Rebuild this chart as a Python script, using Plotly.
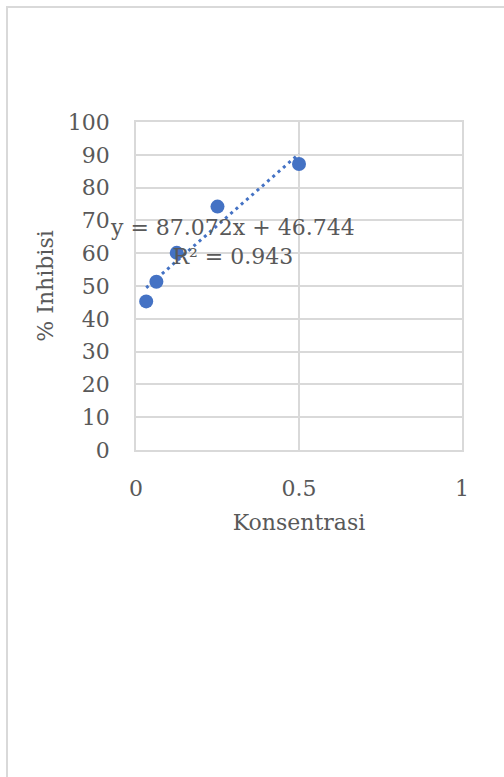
import plotly.graph_objects as go

# Concentration series and measured inhibition
konsentrasi = [0.03125, 0.0625, 0.125, 0.25, 0.5]
inhibisi = [45.3, 51.3, 60.1, 74.2, 87.2]

# Linear trendline coefficients and fit quality
slope = 87.072
intercept = 46.744
r_squared = 0.943

x_ticks = [0, 0.5, 1]
y_ticks = list(range(0, 101, 10))

FONT = "DejaVu Serif"
TXT = "#595959"
GRID = "#d9d9d9"
BLUE = "#4472C4"

trend_x = [min(konsentrasi), max(konsentrasi)]
trend_y = [slope * v + intercept for v in trend_x]

fig = go.Figure()
fig.add_trace(go.Scatter(
    x=trend_x, y=trend_y, mode="lines",
    line=dict(color=BLUE, width=3, dash="3px,4px"),
    hoverinfo="skip", showlegend=False,
))
fig.add_trace(go.Scatter(
    x=konsentrasi, y=inhibisi, mode="markers",
    marker=dict(color=BLUE, size=14),
    showlegend=False,
))

fig.add_annotation(
    x=0.295, y=63.3, xref="x", yref="y",
    text=f"y = {slope}x + {intercept}<br>R² = {r_squared}",
    showarrow=False, align="center",
    font=dict(family=FONT, size=22, color=TXT),
)

# Outer chart frame
fig.add_shape(
    type="rect", xref="paper", yref="paper",
    x0=-0.3957, x1=1.5, y0=-2.0, y1=1.3506,
    line=dict(color=GRID, width=2), fillcolor="rgba(0,0,0,0)",
)

fig.update_layout(
    width=504, height=777,
    margin=dict(l=136, r=42, t=122, b=327),
    paper_bgcolor="white", plot_bgcolor="white",
    font=dict(family=FONT, size=22, color=TXT),
)
fig.update_xaxes(
    range=[0, 1], tickvals=x_ticks, ticktext=[str(v) for v in x_ticks],
    showgrid=True, gridcolor=GRID, gridwidth=1.5,
    showline=True, linecolor=GRID, linewidth=1.5, mirror=True,
    zeroline=False, ticks="", ticklabelstandoff=18,
    title=dict(text="Konsentrasi", font=dict(family=FONT, size=22, color=TXT), standoff=14),
)
fig.update_yaxes(
    range=[0, 100], tickvals=y_ticks,
    showgrid=True, gridcolor=GRID, gridwidth=1.5,
    showline=True, linecolor=GRID, linewidth=1.5, mirror=True,
    zeroline=False, ticks="", ticklabelstandoff=20,
    title=dict(text="% Inhibisi", font=dict(family=FONT, size=22, color=TXT), standoff=8),
)

fig.write_html("out.html")
